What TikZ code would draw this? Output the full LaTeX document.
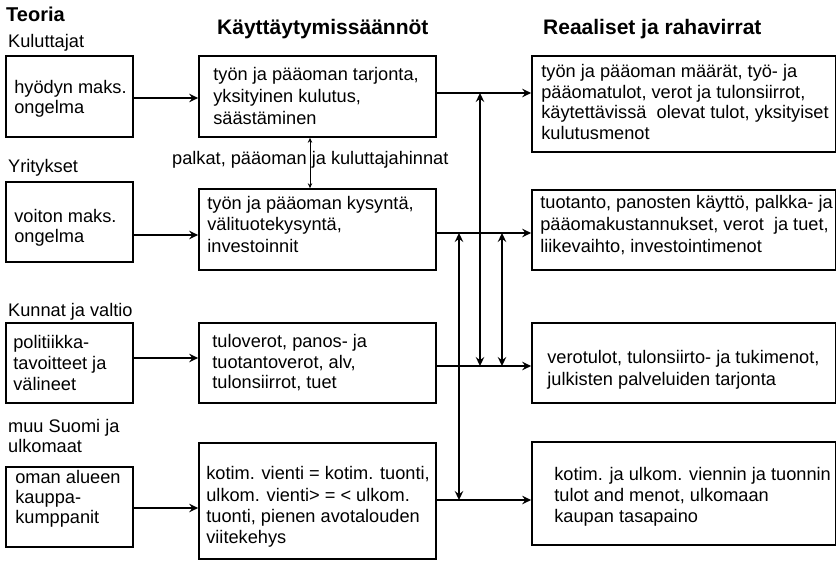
\documentclass[tikz,border=0pt]{standalone}
\usepackage{fontspec}
\setmainfont{Liberation Sans}
\usetikzlibrary{arrows.meta}
\begin{document}
\begin{tikzpicture}[x=1pt,y=-1pt,
  box/.style={draw, line width=1.7pt, inner sep=0pt},
  txt/.style={inner sep=0pt, align=left, anchor=west, font=\fontsize{18.2}{21}\selectfont},
  lbl/.style={inner sep=0pt, align=left, anchor=base west, font=\fontsize{18.2}{20}\selectfont},
  ttl/.style={inner sep=0pt, anchor=base west, font=\fontsize{21}{24}\selectfont\bfseries},
  arr/.style={line width=1.6pt, -{Stealth[length=9pt,width=8.5pt,inset=3.2pt]}},
  arrb/.style={line width=1.6pt, {Stealth[length=9pt,width=8.5pt,inset=3.2pt]}-{Stealth[length=9pt,width=8.5pt,inset=3.2pt]}},
  arrt/.style={line width=0.7pt, {Stealth[length=5pt,width=4.5pt,inset=1.8pt]}-{Stealth[length=5pt,width=4.5pt,inset=1.8pt]}}]
\useasboundingbox (0,0) rectangle (837,561);

% titles
\node[ttl, font=\fontsize{20}{24}\selectfont\bfseries] (tteo) at (6,22) {Teoria};
\node[ttl] (tkay) at (217,35) {Käyttäytymissäännöt};
\node[ttl] (treal) at (543,35) {Reaaliset ja rahavirrat};

% group labels
\node[lbl] (gkul) at (8,48) {Kuluttajat};
\node[lbl] (gyri) at (8,173) {Yritykset};
\node[lbl] (gkun) at (8,316) {Kunnat ja valtio};
\node[inner sep=0pt, align=left, anchor=north west, font=\fontsize{18.2}{20}\selectfont] (gmuu) at (8,419) {muu Suomi ja\\ulkomaat};

% left boxes
\node[box, minimum width=127pt, minimum height=81pt] (l1) at (69.5,96.5) {};
\node[txt, font=\fontsize{18.2}{20}\selectfont] (l1t) at ([xshift=9pt,yshift=-2pt]l1.west) {hyödyn maks.\\ongelma};
\node[box, minimum width=127pt, minimum height=80pt] (l2) at (69.5,222) {};
\node[txt, font=\fontsize{18.2}{20}\selectfont] (l2t) at ([xshift=9pt,yshift=-6pt]l2.west) {voiton maks.\\ongelma};
\node[box, minimum width=127pt, minimum height=80pt] (l3) at (69.5,363) {};
\node[txt] (l3t) at ([xshift=8pt]l3.west) {politiikka-\\tavoitteet ja\\välineet};
\node[box, minimum width=127pt, minimum height=80pt] (l4) at (69.5,507) {};
\node[txt, font=\fontsize{18.2}{20}\selectfont] (l4t) at ([xshift=10pt,yshift=8pt]l4.west) {oman alueen\\kauppa-\\kumppanit};

% middle boxes
\node[box, minimum width=237pt, minimum height=81pt] (m1) at (317.5,96.5) {};
\node[txt, font=\fontsize{18.2}{22}\selectfont] (m1t) at ([xshift=15pt,yshift=1pt]m1.west) {työn ja pääoman tarjonta,\\yksityinen kulutus,\\säästäminen};
\node[box, minimum width=237pt, minimum height=81pt] (m2) at (317.5,229.5) {};
\node[txt, font=\fontsize{18.2}{21.5}\selectfont] (m2t) at ([xshift=9pt,yshift=5.5pt]m2.west) {työn ja pääoman kysyntä,\\välituotekysyntä,\\investoinnit};
\node[box, minimum width=237pt, minimum height=80pt] (m3) at (317.5,363) {};
\node[txt, font=\fontsize{18.2}{20.5}\selectfont] (m3t) at ([xshift=14pt]m3.west) {tuloverot, panos- ja\\tuotantoverot, alv,\\tulonsiirrot, tuet};
\node[box, minimum width=237pt, minimum height=116pt] (m4) at (317.5,501) {};
\node[txt, font=\fontsize{18.2}{21.3}\selectfont] (m4t) at ([xshift=8pt,yshift=-6pt]m4.west) {kotim. vienti = kotim. tuonti,\\ulkom. vienti> = < ulkom.\\tuonti, pienen avotalouden\\viitekehys};

% right boxes
\node[box, minimum width=303.5pt, minimum height=96pt] (r1) at (683.75,104) {};
\node[txt, font=\fontsize{18.2}{20.4}\selectfont] (r1t) at ([xshift=10pt,yshift=2pt]r1.west) {työn ja pääoman määrät, työ- ja\\pääomatulot, verot ja tulonsiirrot,\\käytettävissä\ \ olevat tulot, yksityiset\\kulutusmenot};
\node[box, minimum width=303.5pt, minimum height=80pt] (r2) at (683.75,230) {};
\node[txt, font=\fontsize{18.2}{22}\selectfont] (r2t) at ([xshift=9pt,yshift=4.5pt]r2.west) {tuotanto, panosten käyttö, palkka- ja\\pääomakustannukset, verot\ \ ja tuet,\\liikevaihto, investointimenot};
\node[box, minimum width=303.5pt, minimum height=80pt] (r3) at (683.75,363) {};
\node[txt, font=\fontsize{18.2}{22}\selectfont] (r3t) at ([xshift=16pt,yshift=-6.5pt]r3.west) {verotulot, tulonsiirto- ja tukimenot,\\julkisten palveluiden tarjonta};
\node[box, minimum width=303.5pt, minimum height=103pt] (r4) at (683.75,493.5) {};
\node[txt, font=\fontsize{18.2}{21}\selectfont] (r4t) at ([xshift=23pt,yshift=-3pt]r4.west) {kotim. ja ulkom. viennin ja tuonnin\\tulot and menot, ulkomaan\\kaupan tasapaino};

% price label
\node[lbl] (hint) at (172,165) {palkat, pääoman ja kuluttajahinnat};

% levels of the connectors
\coordinate (a1) at (0,98);
\coordinate (a2) at (0,235);
\coordinate (a3) at (0,358);
\coordinate (a4) at (0,508);
\coordinate (b1) at (0,93);
\coordinate (b2) at (0,233);
\coordinate (b3) at (0,366);
\coordinate (b4) at (0,500);
\coordinate (v0) at (310,0);
\coordinate (v1) at (480,0);
\coordinate (v2) at (459,0);
\coordinate (v3) at (502,0);

% left to middle
\draw[arr] (l1.east |- a1) -- (m1.west |- a1);
\draw[arr] (l2.east |- a2) -- (m2.west |- a2);
\draw[arr] (l3.east |- a3) -- (m3.west |- a3);
\draw[arr] (l4.east |- a4) -- (m4.west |- a4);

% middle to right
\draw[arr] (m1.east |- b1) -- (r1.west |- b1);
\draw[arr] (m2.east |- b2) -- (r2.west |- b2);
\draw[arr] (m3.east |- b3) -- (r3.west |- b3);
\draw[arr] (m4.east |- b4) -- (r4.west |- b4);

% vertical links
\draw[arrt] (m1.south -| v0) -- (m2.north -| v0);
\draw[arrb] (v1 |- b1) -- (v1 |- b3);
\draw[arrb] (v2 |- b2) -- (v2 |- b4);
\draw[arrb] (v3 |- b2) -- (v3 |- b3);
\end{tikzpicture}
\end{document}
